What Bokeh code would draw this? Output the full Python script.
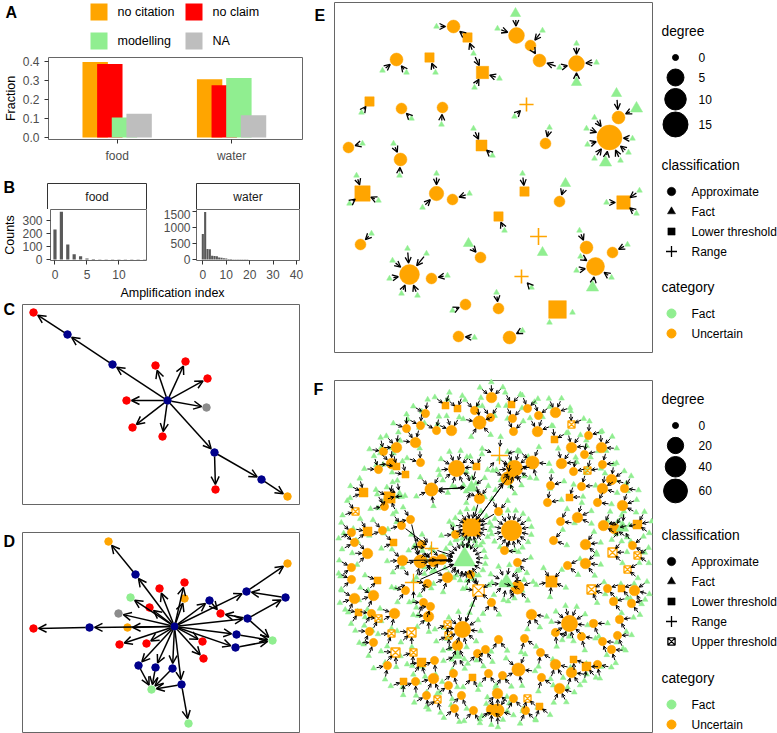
import math
from bokeh.plotting import figure
from bokeh.models import (Range1d, FixedTicker, NumeralTickFormatter, Arrow, OpenHead, ColumnDataSource)
from bokeh.layouts import row, column
from bokeh.embed import file_html
from bokeh.resources import INLINE
from bokeh.core.properties import value

FONT = "Liberation Sans"
ORANGE = "#FFA500"
RED = "#FF0000"
GREEN = "#90EE90"
LIGHTGREY = "#BEBEBE"
NAVY = "#00008B"
MIDGREY = "#8C8C8C"
FRAME = "#666666"

# ---------------- A: fraction of statements per type ----------------
groups = ["food", "water"]
frac_no_citation = [0.397, 0.306]
frac_no_claim = [0.387, 0.275]
frac_modelling = [0.105, 0.313]
frac_na = [0.125, 0.117]
frac_ticks = [0.0, 0.1, 0.2, 0.3, 0.4]

# ---------------- B: amplification index histograms ----------------
food_index = list(range(15))
food_counts = [227, 362, 114, 40, 25, 8, 3, 2, 1, 1, 1, 1, 1, 1, 1]
water_index = list(range(41))
water_counts = [790, 1480, 330, 320, 115, 110, 100, 60, 55, 40, 30, 20, 15, 12, 10, 8,
                7, 6, 5, 5, 4, 4, 3, 3, 3, 2, 2, 2, 2, 1, 1, 1, 1, 1, 1, 1, 1, 1, 1, 1, 1]
food_ticks = [0, 5, 10]
food_count_ticks = [0, 100, 200, 300]
water_ticks = [0, 10, 20, 30, 40]
water_count_ticks = [0, 500, 1000, 1500]

# ---------------- C and D: citation trees (layout x, y, node type) ----------------
NODE_COLOURS = {"b": NAVY, "r": RED, "g": MIDGREY, "o": ORANGE, "l": GREEN}
C_nodes = [(145, 96, "b"), (90, 60, "b"), (45, 30, "b"), (11, 8, "r"), (133, 61, "r"),
           (163, 57, "r"), (185, 74, "r"), (104, 96, "r"), (184, 103, "g"), (110, 123, "r"),
           (140, 132, "r"), (192, 148, "b"), (193, 185, "r"), (239, 175, "b"), (265, 192, "o")]
C_edges = [(0, 1), (1, 2), (2, 3), (0, 4), (0, 5), (0, 6), (0, 7), (0, 8), (0, 9), (0, 10),
           (0, 11), (11, 12), (11, 13), (13, 14)]

D_nodes = [(152, 94, "b"), (86, 9, "o"), (113, 42, "b"), (137, 56, "r"), (162, 50, "r"),
           (162, 66, "o"), (108, 65, "l"), (127, 75, "r"), (96, 81, "g"), (105, 95, "o"),
           (67, 95, "b"), (11, 96, "r"), (97, 112, "r"), (124, 111, "r"), (187, 68, "b"),
           (198, 81, "r"), (224, 59, "b"), (265, 31, "o"), (263, 65, "b"), (225, 86, "b"),
           (214, 102, "b"), (213, 115, "b"), (250, 108, "l"), (180, 109, "r"), (181, 126, "r"),
           (116, 133, "b"), (133, 135, "b"), (150, 136, "b"), (159, 152, "b"), (129, 157, "l"),
           (166, 191, "l")]
D_edges = [(0, 2), (2, 1), (0, 3), (0, 4), (0, 5), (0, 6), (0, 7), (0, 8), (0, 9), (0, 10),
           (10, 11), (0, 12), (0, 13), (0, 14), (14, 15), (0, 16), (16, 17), (18, 16), (19, 18),
           (19, 15), (0, 19), (19, 22), (0, 20), (20, 22), (0, 21), (21, 22), (0, 23), (0, 24),
           (0, 25), (25, 29), (0, 26), (26, 29), (0, 27), (27, 29), (0, 28), (28, 29), (28, 30)]

# ---------------- E: food network (x, y, classification, degree) ----------------
# c = Approximate, t = Fact, s = Lower threshold, p = Range, u = Upper threshold
E_hubs = [(119, 24, "c", 2), (133, 35, "s", 1), (148, 70, "s", 3), (62, 57, "c", 2), (95, 55, "s", 1),
          (182, 33, "c", 4), (196, 43, "c", 1), (205, 58, "c", 2), (242, 61, "c", 4), (35, 99, "s", 1),
          (67, 106, "c", 1), (108, 105, "c", 1), (192, 102, "p", 1), (275, 135, "c", 15), (284, 115, "c", 2),
          (211, 141, "c", 1), (147, 143, "s", 2), (14, 145, "c", 1), (66, 157, "c", 2), (28, 191, "s", 6),
          (102, 191, "c", 3), (118, 197, "c", 1), (190, 189, "s", 1), (225, 199, "c", 1), (289, 200, "s", 4),
          (164, 214, "s", 1), (204, 234, "p", 2), (26, 242, "c", 1), (146, 255, "c", 1), (252, 245, "c", 2),
          (261, 264, "c", 6), (278, 250, "c", 1), (75, 272, "c", 8), (97, 276, "c", 1), (187, 274, "p", 1),
          (131, 302, "c", 1), (164, 306, "c", 1), (223, 307, "s", 9), (124, 334, "c", 1), (175, 335, "c", 2)]
# fact statements citing the hubs: (x, y, degree, cited hubs)
E_leaves = [(102, 24, 0, (0,)), (139, 51, 0, (1, 2)), (140, 85, 0, (2,)), (165, 76, 0, (2,)),
            (48, 68, 0, (3,)), (72, 70, 0, (3,)), (101, 70, 0, (4,)), (181, 11, 1, (5,)),
            (163, 26, 0, (5,)), (208, 28, 0, (6,)), (225, 65, 0, (7, 8)), (242, 41, 0, (8,)),
            (262, 60, 0, (8,)), (242, 80, 1, (8,)), (27, 110, 0, (9,)), (77, 116, 0, (10,)),
            (107, 122, 0, (11,)), (180, 114, 0, (12,)),
            (260, 115, 0, (13,)), (252, 126, 0, (13,)), (253, 142, 0, (13,)), (260, 156, 0, (13,)),
            (271, 160, 2, (13,)), (286, 158, 0, (13,)), (294, 150, 0, (13,)), (298, 136, 0, (13,)),
            (282, 91, 1, (14,)), (302, 106, 2, (14,)), (215, 125, 0, (15,)), (139, 126, 0, (16,)),
            (158, 153, 0, (16,)), (28, 141, 0, (17,)), (59, 141, 0, (18,)), (65, 173, 0, (18,)),
            (22, 173, 0, (19,)), (15, 201, 0, (19,)), (44, 198, 0, (19,)), (102, 171, 0, (20,)),
            (88, 205, 0, (20,)), (135, 191, 0, (21,)), (188, 171, 0, (22,)), (231, 181, 1, (23,)),
            (272, 200, 0, (24,)), (305, 188, 0, (24,)), (302, 211, 0, (24,)), (170, 228, 0, (25,)),
            (208, 250, 1, (26,)), (37, 231, 0, (27,)), (134, 241, 1, (28,)), (245, 228, 0, (29,)),
            (242, 268, 0, (30,)), (258, 285, 2, (30,)), (277, 275, 0, (30,)), (246, 254, 0, (30,)),
            (293, 242, 0, (31,)), (73, 246, 0, (32,)), (92, 251, 0, (32,)), (58, 258, 0, (32,)),
            (55, 276, 0, (32,)), (67, 291, 0, (32,)), (83, 293, 0, (32,)), (113, 273, 0, (33,)),
            (197, 285, 0, (34,)), (118, 308, 0, (35,)), (162, 290, 0, (36,)), (215, 320, 0, (37,)),
            (238, 310, 0, (37,)), (140, 335, 0, (38,)), (188, 328, 0, (39,))]
E_hub_links = [(1, 0), (6, 7), (14, 13)]

# ---------------- F: water network (x, y, classification, size class) ----------------
F_DEGREE = {"s": 1, "m": 4, "l": 10, "xl": 20, "xxl": 40, "huge": 60}
F_FACTS = {"s": 2, "m": 3, "l": 5, "xl": 10, "xxl": 16, "huge": 20}
F_upper_left = [
    (157, 17, "c", "m"), (111, 25, "s", "s"), (123, 28, "s", "s"), (140, 30, "c", "s"), (145, 42, "c", "l"),
    (156, 37, "c", "s"), (91, 33, "c", "s"), (102, 50, "c", "s"), (117, 50, "c", "m"), (72, 48, "c", "s"),
    (86, 45, "c", "s"), (81, 62, "c", "m"), (62, 67, "c", "m"), (49, 71, "c", "s"), (86, 82, "c", "s"),
    (44, 89, "c", "s"), (57, 83, "c", "m"), (62, 86, "s", "s"), (71, 94, "s", "s"), (122, 88, "c", "xl"),
    (142, 86, "s", "s"), (97, 109, "c", "l"), (137, 107, "t", "l"), (145, 118, "c", "m"), (29, 112, "s", "m"),
    (55, 117, "s", "l"), (65, 115, "t", "m"), (50, 126, "c", "s"), (21, 131, "u", "s"), (17, 152, "c", "s"),
    (33, 151, "s", "m"), (48, 150, "c", "s"), (67, 145, "c", "s"), (76, 139, "c", "s"), (20, 162, "c", "s"),
    (33, 173, "c", "m"), (59, 162, "s", "s"), (87, 164, "c", "s"), (97, 168, "p", "m"), (137, 147, "s", "xxl"),
    (121, 154, "c", "s")]
F_upper_right = [
    (177, 24, "s", "s"), (193, 28, "c", "s"), (204, 35, "c", "s"), (221, 32, "c", "m"), (237, 44, "u", "s"),
    (178, 38, "c", "s"), (179, 51, "c", "s"), (203, 51, "c", "m"), (220, 59, "s", "s"), (254, 55, "c", "s"),
    (237, 67, "c", "m"), (267, 67, "c", "m"), (250, 74, "c", "s"), (227, 83, "c", "m"), (239, 91, "c", "s"),
    (253, 90, "u", "s"), (268, 84, "c", "s"), (277, 99, "c", "m"), (290, 108, "c", "s"), (268, 108, "c", "m"),
    (247, 106, "c", "s"), (216, 105, "c", "s"), (235, 117, "s", "s"), (213, 122, "c", "s"), (263, 122, "c", "s"),
    (288, 125, "c", "m"), (243, 137, "c", "m"), (226, 141, "c", "s"), (269, 145, "c", "m"), (280, 148, "c", "m"),
    (288, 147, "t", "l"), (303, 144, "s", "m"), (219, 160, "c", "s"), (251, 164, "c", "m"), (298, 165, "c", "s"),
    (180, 88, "c", "xl"), (165, 75, "p", "l"), (173, 98, "c", "l"), (198, 82, "c", "l"), (177, 150, "c", "xxl"),
    (170, 170, "c", "s"), (164, 131, "c", "s"), (278, 172, "u", "m"), (303, 175, "u", "s")]
F_lower_left = [
    (68, 180, "c", "m"), (86, 181, "c", "l"), (99, 181, "c", "m"), (107, 179, "c", "m"), (130, 179, "t", "huge"),
    (17, 187, "c", "s"), (79, 202, "p", "l"), (17, 199, "c", "s"), (43, 200, "s", "s"), (113, 197, "c", "m"),
    (71, 210, "c", "s"), (93, 203, "c", "s"), (136, 194, "c", "s"), (20, 218, "c", "m"), (39, 215, "c", "m"),
    (144, 210, "u", "l"), (157, 222, "c", "s"), (89, 222, "c", "s"), (96, 226, "c", "s"), (94, 236, "c", "m"),
    (24, 232, "s", "s"), (37, 233, "c", "s"), (44, 238, "u", "s"), (60, 233, "c", "m"), (113, 244, "u", "s"),
    (114, 255, "u", "s"), (128, 249, "c", "xl"), (35, 251, "c", "s"), (57, 253, "u", "s"), (77, 252, "u", "m"),
    (39, 262, "c", "s"), (123, 265, "c", "m"), (123, 275, "t", "m"), (143, 273, "c", "s"), (151, 269, "c", "s"),
    (61, 272, "u", "m"), (79, 272, "u", "s"), (87, 282, "s", "m"), (100, 280, "c", "s"), (53, 285, "c", "s"),
    (119, 293, "c", "s"), (138, 297, "s", "s"), (154, 293, "c", "s"), (69, 301, "s", "s"), (81, 301, "c", "s"),
    (99, 298, "c", "m"), (114, 305, "c", "s"), (92, 315, "c", "s"), (103, 319, "u", "s"), (127, 315, "c", "s"),
    (120, 328, "c", "s"), (139, 330, "c", "s"), (157, 329, "c", "m")]
F_lower_right = [
    (183, 182, "c", "s"), (172, 202, "t", "xl"), (183, 207, "c", "l"), (217, 201, "s", "l"), (233, 185, "c", "s"),
    (251, 183, "c", "m"), (293, 189, "u", "s"), (257, 209, "u", "m"), (273, 208, "c", "s"), (287, 208, "s", "s"),
    (300, 210, "c", "m"), (279, 221, "c", "s"), (297, 223, "c", "s"), (197, 234, "c", "m"), (235, 243, "c", "xl"),
    (259, 243, "c", "s"), (285, 239, "c", "s"), (221, 252, "c", "s"), (247, 256, "c", "s"), (164, 259, "c", "s"),
    (190, 258, "c", "s"), (268, 261, "c", "s"), (283, 255, "c", "s"), (277, 269, "c", "s"), (206, 272, "c", "s"),
    (239, 279, "s", "s"), (184, 289, "c", "l"), (221, 284, "c", "m"), (252, 286, "s", "m"), (263, 284, "c", "s"),
    (168, 295, "c", "s"), (237, 292, "c", "m"), (207, 297, "c", "s"), (225, 308, "c", "m"), (163, 313, "c", "m"),
    (193, 318, "u", "s"), (179, 318, "c", "s"), (205, 326, "s", "s"), (191, 330, "c", "s"), (163, 330, "c", "l")]
# citations between statements near the centre of the network (from, to)
F_links = [((145, 118), (137, 147)), ((137, 147), (173, 98)), ((137, 147), (180, 88)), ((97, 109), (137, 107)),
           ((137, 107), (97, 109)), ((142, 86), (137, 107)), ((76, 139), (86, 181)), ((67, 145), (97, 168)),
           ((86, 181), (130, 179)), ((99, 181), (130, 179)), ((107, 179), (130, 179)), ((97, 168), (130, 179)),
           ((79, 202), (130, 179)), ((113, 197), (130, 179)), ((68, 180), (130, 179)), ((130, 179), (144, 210)),
           ((144, 210), (128, 249)), ((96, 226), (94, 236)), ((183, 207), (172, 202)), ((137, 147), (130, 179)),
           ((136, 194), (130, 179)), ((121, 154), (137, 147)), ((164, 131), (137, 147))]

# legend entries
E_degree_keys = [0, 5, 10, 15]
F_degree_keys = [0, 20, 40, 60]
E_classes = [("Approximate", "c"), ("Fact", "t"), ("Lower threshold", "s"), ("Range", "p")]
F_classes = E_classes + [("Upper threshold", "u")]
categories = [("Fact", GREEN), ("Uncertain", ORANGE)]


def d_E(deg):
    return 6 + 4.9 * math.sqrt(deg)


def d_F(deg):
    return 6 + 2.3 * math.sqrt(deg)


MARKERS = {"c": ("circle", 1.0, True), "t": ("triangle", 0.95, True), "s": ("square", 0.85, True),
           "p": ("cross", 1.3, False), "u": ("square_x", 0.85, False)}


def base_fig(w, h, left, right, top, bottom, xr, yr, axes=False, outline=FRAME):
    kw = dict(width=w, height=h, x_range=xr, y_range=yr, output_backend="svg", toolbar_location=None,
              min_border_left=left, min_border_right=right, min_border_top=top, min_border_bottom=bottom,
              title=None)
    if not axes:
        kw.update(x_axis_location=None, y_axis_location=None)
    p = figure(**kw)
    # each panel keeps its own frame; no alignment with neighbours
    if hasattr(p, "frame_align"):
        p.frame_align = False
    p.grid.visible = False
    p.outline_line_color = outline
    p.outline_line_width = 1
    p.background_fill_color = "white"
    p.border_fill_color = "white"
    return p


def canvas_fig(w, h, xr, yr):
    # figure whose frame covers the whole canvas, one data unit per pixel
    return base_fig(w, h, 0, 0, 0, 0, xr, yr, outline=None)


def style_axes(p, xstand, ystand):
    for ax in p.axis:
        ax.axis_line_color = None
        ax.major_tick_line_color = "#333333"
        ax.major_tick_out = 4
        ax.major_tick_in = 0
        ax.minor_tick_line_color = None
        ax.major_label_text_font = FONT
        ax.major_label_text_font_size = "12px"
        ax.major_label_text_color = "#4D4D4D"
        ax.axis_label_text_font = FONT
        ax.axis_label_text_font_size = "12.5px"
        ax.axis_label_text_font_style = "normal"
        ax.axis_label_text_color = "black"
        ax.axis_label_standoff = 3
    p.xaxis.major_label_standoff = xstand
    p.yaxis.major_label_standoff = ystand


def add_text(p, xs, ys, texts, size="12px", bold=False, align="left", color="black"):
    p.text(x=xs, y=ys, text=texts, text_font=value(FONT), text_font_size=value(size),
           text_font_style="bold" if bold else "normal", text_color=color, text_align=align,
           text_baseline="middle")


def panel_box(p, w, h):
    p.quad(left=[0], right=[w], top=[0], bottom=[h], fill_color=None, line_color=FRAME, line_width=1)


def draw_nodes(p, xs, ys, kinds, diams, colours, line_w=1.6):
    for k, (marker, scale, filled) in MARKERS.items():
        idx = [i for i, kk in enumerate(kinds) if kk == k]
        if not idx:
            continue
        src = ColumnDataSource(dict(x=[xs[i] for i in idx], y=[ys[i] for i in idx],
                                    size=[diams[i] * scale for i in idx], color=[colours[i] for i in idx]))
        if filled:
            p.scatter("x", "y", size="size", marker=marker, fill_color="color", line_color="color",
                      line_width=0.5, source=src)
        else:
            p.scatter("x", "y", size="size", marker=marker, fill_alpha=0, line_color="color",
                      line_width=line_w, source=src)


def draw_arrows(p, pairs, head, lw):
    x0s, y0s, x1s, y1s = [], [], [], []
    for (xa, ya, ra), (xb, yb, rb) in pairs:
        dx, dy = xb - xa, yb - ya
        L = math.hypot(dx, dy)
        if L <= ra + rb + 1:
            continue
        ux, uy = dx / L, dy / L
        x0s.append(xa + ux * ra)
        y0s.append(ya + uy * ra)
        x1s.append(xb - ux * rb)
        y1s.append(yb - uy * rb)
    src = ColumnDataSource(dict(x0=x0s, y0=y0s, x1=x1s, y1=y1s))
    p.add_layout(Arrow(end=OpenHead(size=head, line_width=lw, line_color="black"),
                       x_start="x0", y_start="y0", x_end="x1", y_end="y1", source=src,
                       line_width=lw, line_color="black"))


# =============== Panel A ===============
series = [("no citation", frac_no_citation, ORANGE), ("no claim", frac_no_claim, RED),
          ("modelling", frac_modelling, GREEN), ("NA", frac_na, LIGHTGREY)]

# legend strip above the bars (2 x 2 keys)
pal = canvas_fig(310, 56, Range1d(0, 310), Range1d(56, 0))
key_x = [90 + 95 * (i % 2) for i in range(len(series))]
key_y = [3 + 29 * (i // 2) for i in range(len(series))]
pal.rect(x=[x + 8.5 for x in key_x], y=[y + 8.5 for y in key_y], width=17, height=17,
         fill_color=[s[2] for s in series], line_color=None)
add_text(pal, [x + 27 for x in key_x], [y + 8.5 for y in key_y], [s[0] for s in series], size="12.5px")
add_text(pal, [5], [12], ["A"], size="16px", bold=True)

pa = base_fig(310, 109, 42, 8, 1, 26, Range1d(0.4, 2.62), Range1d(-0.0105, 0.421), axes=True)
group_pos = [1, 2]
dodge = 0.128
for i, (name, vals, col) in enumerate(series):
    src = ColumnDataSource(dict(x=[g + (i - 1.5) * dodge for g in group_pos], top=vals))
    pa.vbar(x="x", top="top", bottom=0, width=0.222, source=src, fill_color=col, line_color=None)
pa.xaxis.ticker = FixedTicker(ticks=group_pos)
pa.xaxis.major_label_overrides = {g: name for g, name in zip(group_pos, groups)}
pa.yaxis.ticker = FixedTicker(ticks=frac_ticks)
pa.yaxis.formatter = NumeralTickFormatter(format="0.0")
style_axes(pa, 5, 5)
pa.yaxis.axis_label = "Fraction"
pa.yaxis.axis_label_standoff = 2

# =============== Panel B ===============
# facet strips: food over the left panel frame, water over the right one
sb = canvas_fig(310, 44, Range1d(0, 310), Range1d(44, 0))
strip_left = [47, 196]
strip_right = [146, 299]
sb.quad(left=strip_left, right=strip_right, top=[18, 18], bottom=[44, 44], fill_color="white",
        line_color="#333333", line_width=1)
add_text(sb, [(a + b) / 2 for a, b in zip(strip_left, strip_right)], [31, 31], groups,
         align="center", color="#1A1A1A")
add_text(sb, [3], [22], ["B"], size="16px", bold=True)

hf = base_fig(156, 73, 47, 10, 0, 22, Range1d(-0.7, 14.3), Range1d(-8, 380), axes=True)
hf.vbar(x=food_index, top=food_counts, width=0.5, bottom=0, fill_color="#595959", line_color=None)
hf.xaxis.ticker = FixedTicker(ticks=food_ticks)
hf.yaxis.ticker = FixedTicker(ticks=food_count_ticks)
style_axes(hf, 5, 4)
hf.yaxis.axis_label = "Counts"
hf.yaxis.axis_label_standoff = 2

hw = base_fig(154, 73, 40, 11, 0, 22, Range1d(-2.7, 41.3), Range1d(-30, 1555), axes=True)
hw.vbar(x=water_index, top=water_counts, width=0.9, bottom=0, fill_color="#595959", line_color=None)
hw.xaxis.ticker = FixedTicker(ticks=water_ticks)
hw.yaxis.ticker = FixedTicker(ticks=water_count_ticks)
style_axes(hw, 5, 2)

bt = canvas_fig(310, 18, Range1d(0, 310), Range1d(18, 0))
add_text(bt, [172], [10], ["Amplification index"], size="12.5px", align="center")


# =============== Panels C and D ===============
def tree_panel(nodes, edges, h, top, letter, letter_y):
    p = canvas_fig(310, h, Range1d(-22, 288), Range1d(h - top, -top))
    panel_box(p, 277, 200)
    pairs = [((nodes[a][0], nodes[a][1], 4), (nodes[b][0], nodes[b][1], 5)) for a, b in edges]
    draw_arrows(p, pairs, 8, 1.5)
    p.scatter([n[0] for n in nodes], [n[1] for n in nodes], size=7.5, marker="circle",
              color=[NODE_COLOURS[n[2]] for n in nodes])
    add_text(p, [-19], [letter_y], [letter], size="16px", bold=True)
    return p


pc = tree_panel(C_nodes, C_edges, 215, 4, "C", 5)
pd = tree_panel(D_nodes, D_edges, 218, 17, "D", 9)

# =============== Panel E ===============
pe = canvas_fig(343, 360, Range1d(-24, 319), Range1d(358, -2))
panel_box(pe, 318, 350)
hx = [h[0] for h in E_hubs]
hy = [h[1] for h in E_hubs]
hk = [h[2] for h in E_hubs]
hd = [d_E(h[3]) for h in E_hubs]
lx = [l[0] for l in E_leaves]
ly = [l[1] for l in E_leaves]
ld = [d_E(l[2]) for l in E_leaves]
pairs = []
for j, leaf in enumerate(E_leaves):
    for t in leaf[3]:
        pairs.append(((lx[j], ly[j], ld[j] / 2 + 1), (hx[t], hy[t], hd[t] * MARKERS[hk[t]][1] / 2 + 1.5)))
for a, b in E_hub_links:
    pairs.append(((hx[a], hy[a], hd[a] / 2 + 1), (hx[b], hy[b], hd[b] / 2 + 1.5)))
draw_arrows(pe, pairs, 6, 1.3)
draw_nodes(pe, lx, ly, ["t"] * len(lx), ld, [GREEN] * len(lx))
draw_nodes(pe, hx, hy, hk, hd, [GREEN if k == "t" else ORANGE for k in hk])
add_text(pe, [-20], [13], ["E"], size="16px", bold=True)

# =============== Panel F ===============
pf = canvas_fig(343, 373, Range1d(-24, 319), Range1d(353, -20))
panel_box(pf, 318, 352)
F_all = F_upper_left + F_upper_right + F_lower_left + F_lower_right
fx = [n[0] for n in F_all]
fy = [n[1] for n in F_all]
fk = [n[2] for n in F_all]
fdeg = [F_DEGREE[n[3]] for n in F_all]
fd = [d_F(v) for v in fdeg]
cx, cy = 159, 176
leaf_x, leaf_y, pairs = [], [], []
for i, n in enumerate(F_all):
    count = F_FACTS[n[3]]
    r = fd[i] * MARKERS[fk[i]][1] / 2
    base = math.atan2(fy[i] - cy, fx[i] - cx)
    if count <= 3:
        spread = {1: [0.0], 2: [-0.6, 0.6], 3: [-0.85, 0.0, 0.85]}[count]
        angles = [base + a for a in spread]
    else:
        angles = [base + 2 * math.pi * k / count for k in range(count)]
    dist = r + 10
    for a in angles:
        x = fx[i] + dist * math.cos(a)
        y = fy[i] + dist * math.sin(a)
        leaf_x.append(x)
        leaf_y.append(y)
        pairs.append(((x, y, 3), (fx[i], fy[i], r + 0.5)))


def nearest(pt):
    return min(range(len(F_all)), key=lambda i: (fx[i] - pt[0]) ** 2 + (fy[i] - pt[1]) ** 2)


for a_pt, b_pt in F_links:
    a, b = nearest(a_pt), nearest(b_pt)
    pairs.append(((fx[a], fy[a], fd[a] / 2 + 1), (fx[b], fy[b], fd[b] / 2 + 1)))
draw_arrows(pf, pairs, 3.5, 1.0)
draw_nodes(pf, leaf_x, leaf_y, ["t"] * len(leaf_x), [d_F(0)] * len(leaf_x), [GREEN] * len(leaf_x))
draw_nodes(pf, fx, fy, fk, fd, [GREEN if k == "t" else ORANGE for k in fk], line_w=1.3)
add_text(pf, [-21], [9], ["F"], size="16px", bold=True)


# =============== Legends for E and F ===============
def legend_panel(h, deg_keys, size_fn, classes, y_deg, y_cls, y_cat):
    p = canvas_fig(124, h, Range1d(0, 124), Range1d(h, 0))
    add_text(p, [8] * 3, [y_deg, y_cls, y_cat], ["degree", "classification", "category"], size="13.8px")
    # size keys, stacked by key height
    diams = [size_fn(v) for v in deg_keys]
    keys = [max(20, d + 2) for d in diams]
    ys = [y_deg + 26]
    for i in range(1, len(diams)):
        ys.append(ys[-1] + (keys[i - 1] + keys[i]) / 2)
    p.scatter([22] * len(diams), ys, size=diams, marker="circle", color="black")
    add_text(p, [45] * len(diams), ys, [str(v) for v in deg_keys])
    # classification keys
    cys = [y_cls + 26 + 20 * i for i in range(len(classes))]
    draw_nodes(p, [18] * len(classes), cys, [c[1] for c in classes], [8.5] * len(classes),
               ["black"] * len(classes), line_w=1.3)
    add_text(p, [38] * len(classes), cys, [c[0] for c in classes])
    # category keys
    kys = [y_cat + 26 + 20 * i for i in range(len(categories))]
    p.scatter([18] * len(categories), kys, size=9, marker="circle", color=[c[1] for c in categories])
    add_text(p, [38] * len(categories), kys, [c[0] for c in categories])
    return p


le = legend_panel(360, E_degree_keys, d_E, E_classes, 31, 165, 287)
lf = legend_panel(373, F_degree_keys, d_F, F_classes, 39, 175, 318)

left = column(pal, pa, sb, row(hf, hw), bt, pc, pd)
right = column(row(pe, le), row(pf, lf))
layout = row(left, right)

open("out.html", "w").write(file_html(layout, INLINE))
